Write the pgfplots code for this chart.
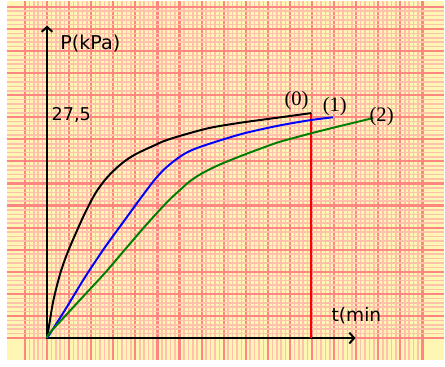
\documentclass[border=0pt]{standalone}
\usepackage{pgfplots}
\pgfplotsset{compat=1.18}
\usepackage{fontspec}
\setmainfont{DejaVu Sans}
\newfontfamily\seriffont{Liberation Serif}
\usetikzlibrary{arrows.meta}

\definecolor{paper}{HTML}{FFF6B4}
\definecolor{minorline}{HTML}{FFC0AC}
\definecolor{majorline}{HTML}{FF8682}
\definecolor{curvegreen}{HTML}{008000}

\begin{document}
\begin{tikzpicture}
\begin{axis}[
    width=445bp, height=365bp,
    scale only axis,
    xmin=-1.824, xmax=17.97,
    ymin=-0.979, ymax=15.26,
    xtick={-1,0,...,17}, ytick={0,1,...,15},
    minor x tick num=4, minor y tick num=4,
    grid=both,
    major grid style={majorline, line width=2.2bp},
    minor grid style={minorline, line width=1.6bp},
    axis line style={draw=none},
    tick style={draw=none},
    xticklabels={}, yticklabels={},
    axis background/.style={fill=paper},
    clip=false,
]

% axes with open arrow heads
\draw[line width=2bp, -{Straight Barb[length=5bp,width=11bp]}]
    (axis cs:0,-0.05) -- (axis cs:0,14.15);
\draw[line width=2bp, -{Straight Barb[length=5bp,width=11bp]}]
    (axis cs:-0.05,0) -- (axis cs:13.97,0);

% red marker line
\addplot[red, line width=2bp] coordinates {(11.966,0) (11.966,10.187)};

% curve (0)
\addplot[black, line width=2bp, smooth, tension=0.5] coordinates {
    (0,0) (0.044,0.267) (0.133,0.801) (0.267,1.601) (0.445,2.358)
    (0.623,3.003) (0.845,3.648) (1.068,4.204) (1.379,4.915) (1.735,5.694)
    (2.180,6.539) (2.625,7.162) (3.069,7.629) (3.514,8.007) (3.959,8.296)
    (4.404,8.519) (4.849,8.719) (5.294,8.919) (6.050,9.164) (7.384,9.520)
    (8.852,9.764) (10.498,9.987) (11.966,10.187)
};

% curve (1)
\addplot[blue, line width=2bp, smooth, tension=0.5] coordinates {
    (0,0) (0.178,0.267) (0.845,1.321) (1.735,2.780) (2.625,4.115)
    (3.514,5.338) (4.226,6.317) (4.849,7.140) (5.294,7.629) (5.738,8.007)
    (6.183,8.319) (6.628,8.541) (7.384,8.808) (8.852,9.253) (10.498,9.622)
    (11.966,9.875) (12.945,9.996)
};

% curve (2)
\addplot[curvegreen, line width=2bp, smooth, tension=0.5] coordinates {
    (0,0) (0.102,0.209) (0.845,1.023) (1.735,1.988) (2.625,2.949)
    (3.514,3.990) (4.404,5.027) (5.218,5.925) (5.738,6.450) (6.050,6.730)
    (6.406,7.051) (6.851,7.362) (7.384,7.651) (7.963,7.918) (8.852,8.274)
    (9.742,8.608) (10.498,8.875) (11.299,9.097) (11.966,9.275)
    (13.301,9.609) (14.769,9.964)
};

\node[anchor=west, inner sep=0, font=\fontsize{19.5}{19.5}\selectfont] at (axis cs:0.60,13.35) {P(kPa)};
\node[anchor=west, inner sep=0, font=\fontsize{18}{18}\selectfont] at (axis cs:0.20,10.08) {27,5};
\node[font=\seriffont\fontsize{21}{21}\selectfont] at (axis cs:11.30,10.74) {(0)};
\node[font=\seriffont\fontsize{21}{21}\selectfont] at (axis cs:13.03,10.48) {(1)};
\node[font=\seriffont\fontsize{21}{21}\selectfont] at (axis cs:15.15,10.03) {(2)};
\node[font=\fontsize{19}{19}\selectfont] at (axis cs:14.01,1.02) {t(min};

\end{axis}
\end{tikzpicture}
\end{document}
